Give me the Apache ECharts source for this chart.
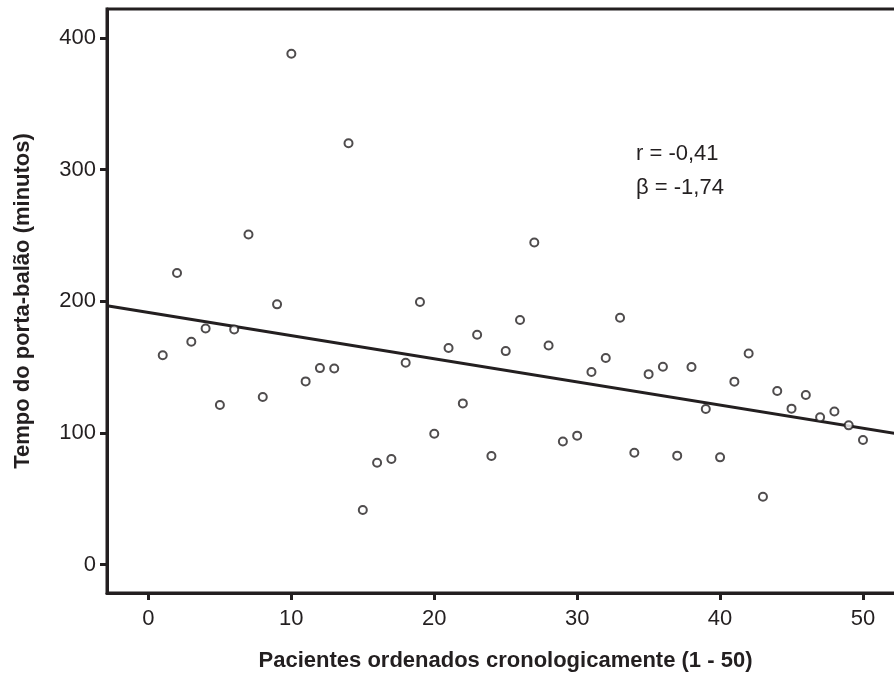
<!DOCTYPE html>
<html>
<head>
<meta charset="utf-8">
<script src="https://cdn.jsdelivr.net/npm/echarts@6/dist/echarts.min.js"></script>
<style>
html,body{margin:0;padding:0;background:#fff;}
#chart{width:894px;height:673px;}
</style>
</head>
<body>
<div id="chart"></div>
<script>
var patients = [];
for (var k = 1; k <= 50; k++) patients.push(k);
var doorToBalloon = [159, 221.5, 169.3, 179.4, 121.3, 178.7, 250.8, 127.3, 197.7, 388,
  139.2, 149.3, 149, 320, 41.5, 77.4, 80.3, 153.4, 199.5, 99.5,
  164.5, 122.5, 174.6, 82.5, 162.2, 185.8, 244.7, 166.5, 93.6, 98,
  146.3, 156.9, 187.5, 85, 144.7, 150.3, 82.8, 150.1, 118.2, 81.5,
  139, 160.4, 51.6, 131.9, 118.5, 128.8, 111.9, 116.4, 105.8, 94.7];
var fitLineX = [-2.9, 52.8];
var fitLineY = [196.7, 98.7];
var xTicks = [0, 10, 20, 30, 40, 50];
var yTicks = [0, 100, 200, 300, 400];
var annotations = ['r = -0,41', 'β = -1,74'];
var xTitle = 'Pacientes ordenados cronologicamente (1 - 50)';
var yTitle = 'Tempo do porta-balão (minutos)';

var scatterData = patients.map(function (p, i) { return [p, doorToBalloon[i]]; });
var lineData = fitLineX.map(function (x, i) { return [x, fitLineY[i]]; });

var FONT = '"Liberation Sans Narrow", "Arial Narrow", "Liberation Sans", Arial, sans-serif';
var INK = '#231f20';

var chart = echarts.init(document.getElementById('chart'), null, {renderer: 'canvas'});
chart.setOption({
  animation: false,
  backgroundColor: '#fff',
  grid: {left: 107, top: 9, right: -10, bottom: 80, containLabel: false, outerBoundsMode: 'none',
    show: true, borderColor: INK, borderWidth: 3, backgroundColor: 'transparent'},
  xAxis: {
    type: 'value', min: -2.9, max: 52.87,
    name: xTitle, nameLocation: 'middle', nameGap: 57,
    nameTextStyle: {fontFamily: FONT, fontWeight: 'bold', fontSize: 22, color: INK},
    axisLine: {show: true, onZero: false, lineStyle: {color: INK, width: 3}},
    axisTick: {show: true, customValues: xTicks, length: 7, lineStyle: {color: INK, width: 3}},
    axisLabel: {customValues: xTicks, fontFamily: FONT, fontSize: 22, color: INK, margin: 15},
    splitLine: {show: false}
  },
  yAxis: {
    type: 'value', min: -21.5, max: 422,
    name: yTitle, nameLocation: 'middle', nameGap: 73, nameRotate: 90,
    nameTextStyle: {fontFamily: FONT, fontWeight: 'bold', fontSize: 22, color: INK},
    axisLine: {show: true, onZero: false, lineStyle: {color: INK, width: 3}},
    axisTick: {show: true, customValues: yTicks, length: 7, lineStyle: {color: INK, width: 3}},
    axisLabel: {customValues: yTicks, fontFamily: FONT, fontSize: 22, color: INK, margin: 11},
    splitLine: {show: false}
  },
  graphic: [
    {type: 'text', left: 636, top: 143, style: {text: annotations[0], font: '22px ' + FONT, fill: INK}},
    {type: 'text', left: 636, top: 177, style: {text: annotations[1], font: '22px ' + FONT, fill: INK}}
  ],
  series: [
    {
      type: 'line', data: lineData, symbol: 'none', silent: true,
      lineStyle: {color: INK, width: 3}, z: 2
    },
    {
      type: 'scatter', data: scatterData, symbol: 'circle', symbolSize: 8,
      itemStyle: {color: '#fff', borderColor: INK, borderWidth: 2}, z: 3
    }
  ]
});
</script>
</body>
</html>
